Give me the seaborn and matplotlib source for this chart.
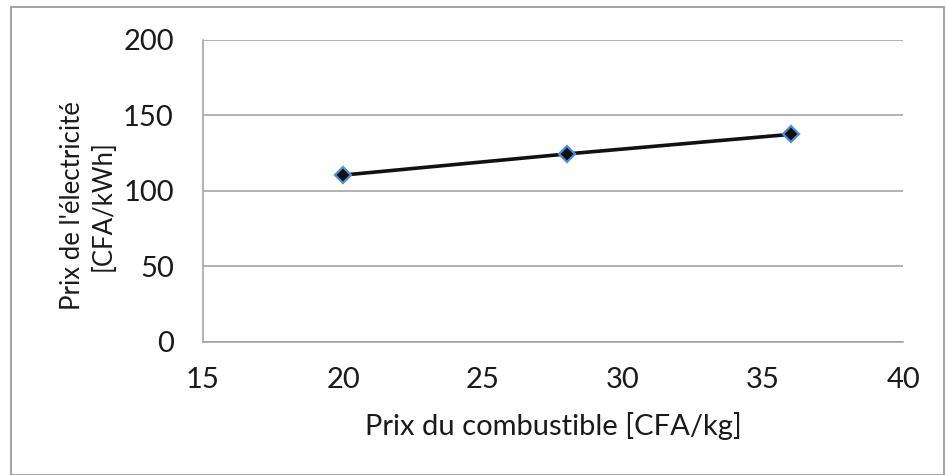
import matplotlib
matplotlib.use("Agg")
import matplotlib.pyplot as plt
import pandas as pd
import seaborn as sns
from matplotlib.patches import Rectangle

# Data
fuel_price = [20, 28, 36]
elec_price = [110.5, 124.5, 137.5]
x_ticks = [15, 20, 25, 30, 35, 40]
y_ticks = [0, 50, 100, 150, 200]

df = pd.DataFrame({"fuel": fuel_price, "elec": elec_price})

sns.set_style("white")
plt.rcParams["font.family"] = ["Lato", "DejaVu Sans"]

GRAY = "#a6a6a6"
TEXT = "#1a1a1a"

fig = plt.figure(figsize=(9.46, 4.75), dpi=100)
ax = fig.add_axes([0.2146, 0.28, 0.74, 0.636])

sns.lineplot(data=df, x="fuel", y="elec", ax=ax, color="#111111", linewidth=2.6,
             marker="D", markersize=8, markerfacecolor="#111111",
             markeredgecolor="#4a90d9", markeredgewidth=1.6)

ax.set_xlim(15, 40)
ax.set_ylim(0, 200)
ax.set_xticks(x_ticks)
ax.set_yticks(y_ticks)
ax.yaxis.grid(True, color=GRAY, linewidth=1.2)
ax.set_axisbelow(True)

for side in ["top", "right"]:
    ax.spines[side].set_visible(False)
for side in ["left", "bottom"]:
    ax.spines[side].set_color(GRAY)
    ax.spines[side].set_linewidth(1.2)

ax.tick_params(axis="both", direction="out", length=7, width=1.2, color=GRAY,
               labelsize=21, labelcolor=TEXT)
ax.tick_params(axis="x", pad=11)
ax.tick_params(axis="y", pad=14)

ax.set_xlabel("Prix du combustible [CFA/kg]", fontsize=21,
              color=TEXT, labelpad=14)
ax.set_ylabel("Prix de l'électricité\n[CFA/kWh]", fontsize=18.5,
              color=TEXT, linespacing=1.3)
ax.yaxis.set_label_coords(-0.125, 0.45)

# outer chart border
fig.patches.append(Rectangle((11 / 946, 0.0), 933 / 946, 1 - 7 / 475,
                             transform=fig.transFigure, fill=False,
                             edgecolor=GRAY, linewidth=1.5))

fig.savefig("out.png", dpi=100)
